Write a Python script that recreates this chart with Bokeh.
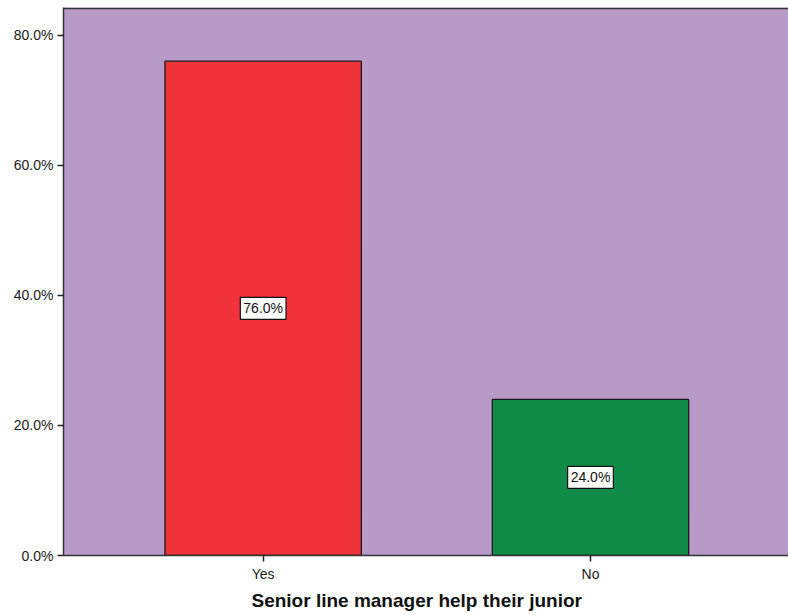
from bokeh.plotting import figure
from bokeh.models import (ColumnDataSource, Range1d, FixedTicker, PrintfTickFormatter,
                          Title, Span)
from bokeh.core.properties import value
from bokeh.embed import file_html
from bokeh.resources import INLINE

# Survey responses
categories = ["Yes", "No"]
percent = [76.0, 24.0]
y_ticks = [0, 20, 40, 60, 80]

bar_colors = ["#F0323A", "#108C48"]
FONT = "Liberation Sans"

xs = list(range(len(categories)))
src = ColumnDataSource(dict(
    x=xs,
    top=percent,
    mid=[v / 2 for v in percent],
    color=bar_colors,
    label=[f"{v:.1f}%" for v in percent],
))

p = figure(width=788, height=615, output_backend="svg", toolbar_location=None,
           x_range=Range1d(-0.61, 1.605), y_range=Range1d(0, 84.25),
           min_border_left=63, min_border_right=0, min_border_top=7,
           min_border_bottom=60)

p.background_fill_color = "#B79AC8"
p.border_fill_color = "white"
p.outline_line_color = None
p.grid.visible = False

p.vbar(x="x", top="top", bottom=0, width=0.6, source=src,
       fill_color="color", line_color="#1a1a1a", line_width=1.3)

# value boxes in the middle of each bar
p.text(x="x", y="mid", text="label", source=src,
       text_align="center", text_baseline="middle",
       text_font=value(FONT), text_font_size="14px", text_color="#111111",
       background_fill_color="white", border_line_color="#111111",
       border_line_width=1.2, padding=3)

# top frame edge
p.add_layout(Span(location=84.1, dimension="width", line_color="#333333",
                  line_width=1.5))

# y axis
p.yaxis.ticker = FixedTicker(ticks=y_ticks)
p.yaxis.formatter = PrintfTickFormatter(format="%.1f%%")
p.yaxis.major_label_text_font = FONT
p.yaxis.major_label_text_font_size = "14px"
p.yaxis.major_label_text_color = "#1a1a1a"
p.yaxis.axis_line_color = "#333333"
p.yaxis.axis_line_width = 1.5
p.yaxis.major_tick_line_color = "#222222"
p.yaxis.major_tick_line_width = 1.5
p.yaxis.major_tick_in = 0
p.yaxis.major_tick_out = 6
p.yaxis.minor_tick_line_color = None
p.yaxis.major_label_standoff = 4

# x axis
p.xaxis.ticker = FixedTicker(ticks=xs)
p.xaxis.major_label_overrides = {i: c for i, c in zip(xs, categories)}
p.xaxis.major_label_text_font = FONT
p.xaxis.major_label_text_font_size = "14px"
p.xaxis.major_label_text_color = "#1a1a1a"
p.xaxis.axis_line_color = "#333333"
p.xaxis.axis_line_width = 1.5
p.xaxis.major_tick_line_color = "#222222"
p.xaxis.major_tick_line_width = 1.5
p.xaxis.major_tick_in = 0
p.xaxis.major_tick_out = 6
p.xaxis.minor_tick_line_color = None
p.xaxis.major_label_standoff = 4

# x axis title
p.add_layout(Title(text="Senior line manager help their junior", align="left",
                   offset=188, standoff=6, text_font=FONT, text_font_size="19px",
                   text_font_style="bold", text_color="#111111"), "below")

open("out.html", "w").write(file_html(p, INLINE))
